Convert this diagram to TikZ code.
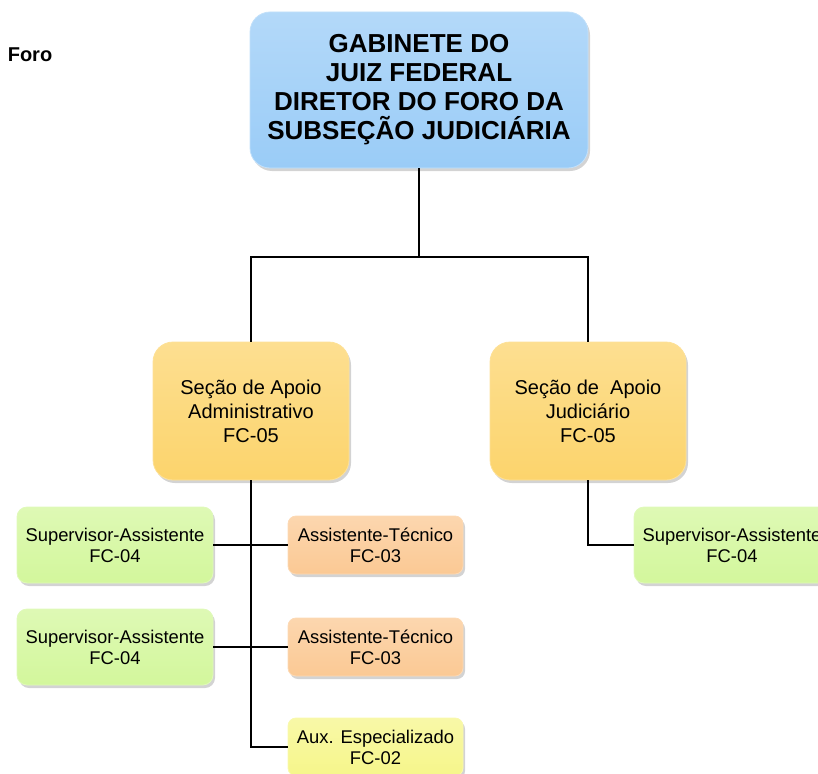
\documentclass[tikz,border=0pt]{standalone}
\usepackage{fontspec}
\setmainfont{Liberation Sans}
\usetikzlibrary{shadows}
\definecolor{azul}{HTML}{9ACCF7}
\definecolor{laranja}{HTML}{FCD46C}
\definecolor{verde}{HTML}{D3F79C}
\definecolor{pessego}{HTML}{FBC994}
\definecolor{amarelo}{HTML}{F6F68A}
\tikzstyle{caixa}=[rectangle,align=center,inner sep=0pt,line width=0.8pt,drop shadow={shadow xshift=2pt,shadow yshift=-3pt,opacity=0.35}]
\tikzstyle{gabinete}=[caixa,rounded corners=20pt,draw=azul!60!white,top color=azul!75!white,bottom color=azul,minimum width=338pt,minimum height=156pt,font=\fontsize{26}{29}\selectfont\bfseries]
\tikzstyle{secao}=[caixa,rounded corners=20pt,draw=laranja!70!white,top color=laranja!75!white,bottom color=laranja,minimum width=196pt,minimum height=138pt,font=\fontsize{20}{24}\selectfont]
\tikzstyle{supervisor}=[caixa,rounded corners=10pt,draw=verde!70!white,top color=verde!75!white,bottom color=verde,minimum width=196pt,minimum height=76pt,font=\fontsize{18.4}{21}\selectfont]
\tikzstyle{tecnico}=[caixa,rounded corners=8pt,draw=pessego!70!white,top color=pessego!75!white,bottom color=pessego,minimum width=175pt,minimum height=58pt,font=\fontsize{18.4}{21}\selectfont]
\tikzstyle{auxiliar}=[tecnico,draw=amarelo!70!white,top color=amarelo!75!white,bottom color=amarelo]
\tikzstyle{linha}=[draw=black,line width=1.5pt]
\begin{document}
\begin{tikzpicture}[x=1pt,y=-1pt]
    \clip (0,0) rectangle (818,773);
    \node[font=\fontsize{20}{22}\selectfont\bfseries] (FORO) at (30,55) {Foro};
    \node[gabinete] (GAB) at (419,90) {GABINETE DO\\JUIZ FEDERAL\\DIRETOR DO FORO DA\\SUBSEÇÃO JUDICIÁRIA};
    \node[secao] (SA) at (251,411) {Seção de Apoio\\Administrativo\\FC-05};
    \node[secao] (SJ) at (588,411) {Seção de~ Apoio\\Judiciário\\FC-05};
    \node[supervisor] (SA1) at (115,545) {Supervisor-Assistente\\FC-04};
    \node[supervisor] (SA2) at (115,647) {Supervisor-Assistente\\FC-04};
    \node[supervisor] (SJ1) at (732,545) {Supervisor-Assistente\\FC-04};
    \node[tecnico] (AT1) at (375.5,545) {Assistente-Técnico\\FC-03};
    \node[tecnico] (AT2) at (375.5,647) {Assistente-Técnico\\FC-03};
    \node[auxiliar] (AUX) at (375.5,747) {Aux. Especializado\\FC-02};
    \coordinate (RAMO) at (419,257);
    \coordinate (TRONCO) at (251,747);
	 \draw[linha] (GAB) -- (RAMO);
	 \draw[linha] (RAMO) -| (SA.north);
	 \draw[linha] (RAMO) -| (SJ.north);
	 \draw[linha] (SA.south) -- (TRONCO) -- (AUX.west);
	 \draw[linha] (SA1.east) -- (AT1.west);
	 \draw[linha] (SA2.east) -- (AT2.west);
	 \draw[linha] (SJ.south) |- (SJ1.west);
\end{tikzpicture}
\end{document}
